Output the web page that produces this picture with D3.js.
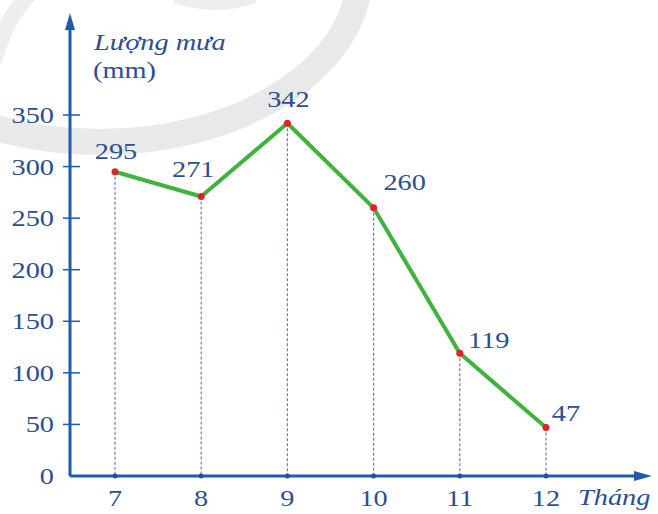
<!DOCTYPE html>
<html><head><meta charset="utf-8">
<script src="https://cdn.jsdelivr.net/npm/d3@7"></script>
<style>body{margin:0;background:#fff}</style>
</head><body><svg id="c" width="658" height="514" font-family="Times New Roman, Liberation Serif, Tinos, serif"></svg>
<script>
const months = [7, 8, 9, 10, 11, 12];
const rainfall = [295, 271, 342, 260, 119, 47];
const yTicks = [0, 50, 100, 150, 200, 250, 300, 350];
const yTitle = ["Lượng mưa", "(mm)"];
const xTitle = "Tháng";

const svg = d3.select("#c");
const axisCol = "#1f5bb0", textCol = "#2b4f91";
const x = d3.scaleLinear().domain([7, 12]).range([115, 546]);
const y = d3.scaleLinear().domain([0, 350]).range([476, 115]);
const x0 = 70;
const SX = 1.18;
const FF = "Times New Roman, Liberation Serif, Tinos, serif";

function styleText(sel, xf, yf) {
  return sel.attr("font-family", FF).attr("font-size", 24)
    .attr("fill", textCol)
    .attr("transform", (d, i) => `translate(${xf(d, i)},${yf(d, i)}) scale(${SX},1)`);
}

// faint watermark shapes
svg.append("ellipse").attr("cx", 100).attr("cy", -28).attr("rx", 260).attr("ry", 170)
  .attr("fill", "none").attr("stroke", "#e9e9e9").attr("stroke-width", 26);
svg.append("path").attr("d", "M -6 62 Q 4 20 30 -6").attr("fill", "none")
  .attr("stroke", "#eeeeee").attr("stroke-width", 16);
svg.append("path").attr("d", "M 175 -2 Q 215 12 255 -2").attr("fill", "none")
  .attr("stroke", "#eeeeee").attr("stroke-width", 10);

// dashed drop lines
svg.selectAll(".drop").data(months).join("line")
  .attr("x1", d => x(d)).attr("x2", d => x(d))
  .attr("y1", (d,i) => y(rainfall[i])).attr("y2", y(0))
  .attr("stroke", "#6f7f9f").attr("stroke-width", 1.2).attr("stroke-dasharray", "3,2");

// axes
svg.append("line").attr("x1", x0).attr("x2", x0).attr("y1", y(0)).attr("y2", 22)
  .attr("stroke", axisCol).attr("stroke-width", 3);
svg.append("path").attr("d", `M${x0-5},30 L${x0},13 L${x0+5},30 Z`).attr("fill", axisCol);
svg.append("line").attr("x1", x0).attr("x2", 640).attr("y1", y(0)).attr("y2", y(0))
  .attr("stroke", axisCol).attr("stroke-width", 3);
svg.append("path").attr("d", `M634,${y(0)-5} L652,${y(0)} L634,${y(0)+5} Z`).attr("fill", axisCol);

// y ticks
svg.selectAll(".yt").data(yTicks.filter(d => d > 0)).join("line")
  .attr("x1", x0 - 7).attr("x2", x0 + 10).attr("y1", d => y(d)).attr("y2", d => y(d))
  .attr("stroke", axisCol).attr("stroke-width", 1.5);
styleText(svg.selectAll(".yl").data(yTicks).join("text"), () => 54, d => y(d) + 8)
  .attr("text-anchor", "end").text(d => d);

// x tick dots and labels
svg.selectAll(".xd").data(months).join("circle")
  .attr("cx", d => x(d)).attr("cy", y(0)).attr("r", 2.5).attr("fill", "#2b4f91");
styleText(svg.selectAll(".xl").data(months).join("text"), d => x(d), () => 506)
  .attr("text-anchor", "middle").text(d => d);

// titles
styleText(svg.append("text").datum(0), () => 94, () => 50).attr("font-style", "italic").text(yTitle[0]);
styleText(svg.append("text").datum(0), () => 93, () => 78).text(yTitle[1]);
styleText(svg.append("text").datum(0), () => 578, () => 505).attr("font-style", "italic").text(xTitle);

// line
const data = months.map((m, i) => ({m, v: rainfall[i]}));
svg.append("path").datum(data)
  .attr("d", d3.line().x(d => x(d.m)).y(d => y(d.v)))
  .attr("fill", "none").attr("stroke", "#3fb33b").attr("stroke-width", 4).attr("stroke-linejoin", "round");
svg.selectAll(".pt").data(data).join("circle")
  .attr("cx", d => x(d.m)).attr("cy", d => y(d.v)).attr("r", 3.5).attr("fill", "#e0222a");

// value labels
const offs = [[1, -13], [-8, -19], [1, -16], [31, -18], [29, -5], [20, -7]];
styleText(svg.selectAll(".vl").data(data).join("text"),
  (d,i) => x(d.m) + offs[i][0], (d,i) => y(d.v) + offs[i][1])
  .attr("text-anchor", "middle").text(d => d.v);
</script></body></html>
